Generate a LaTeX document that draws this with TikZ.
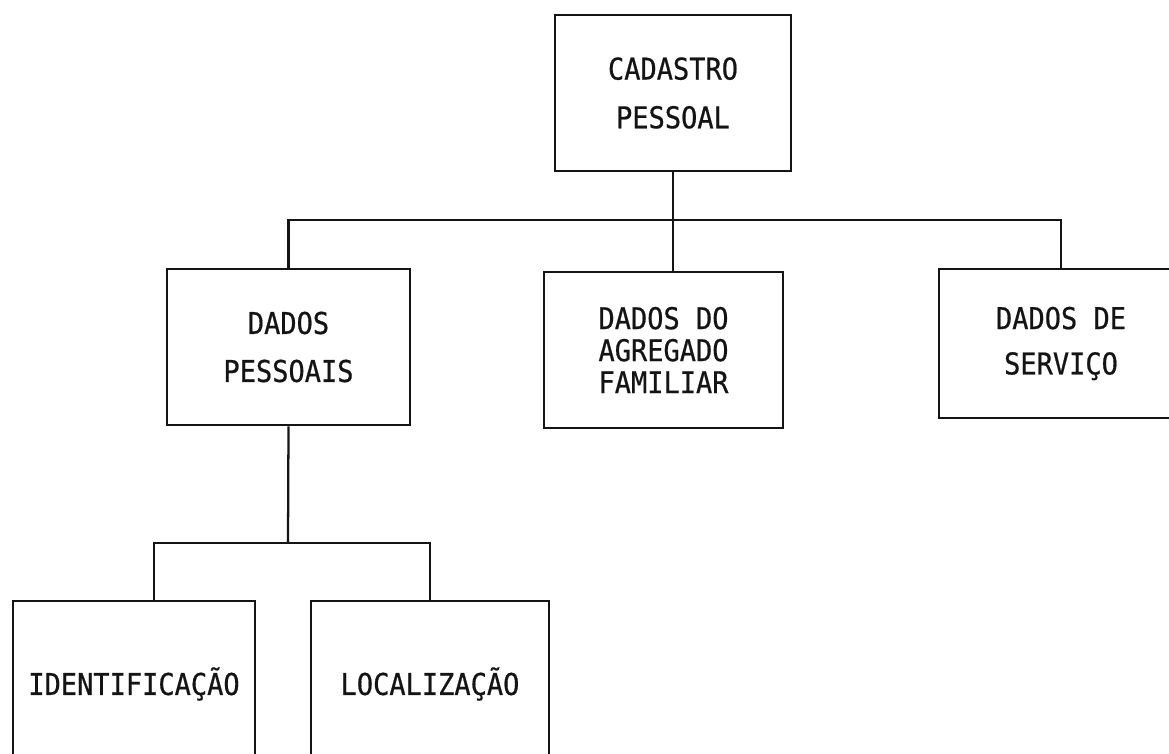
\documentclass[tikz,border=0pt]{standalone}
\usepackage{fontspec}
\newfontfamily\boxfont[FakeStretch=0.9,FakeBold=0.6]{DejaVu Sans Mono}
\usetikzlibrary{positioning,calc}
\definecolor{Ink}{HTML}{141414}
\tikzset{
  unit/.style={rectangle,draw=Ink,line width=2.2pt,inner sep=0pt,align=center,text=Ink,font=\boxfont\fontsize{22.5}{24}\selectfont},
  link/.style={draw=Ink,line width=1.7pt}
}
\begin{document}
\begin{tikzpicture}[x=0.75pt,y=-0.75pt]
    \useasboundingbox (0,0) rectangle (1169,753);
    \fill[white] (0,0) rectangle (1169,753);
    \clip (0,0) rectangle (1169,753);
    % top of the tree
    \node[unit,minimum width=177pt,minimum height=117pt] (cad) at (673,93) {CADASTRO\\[12.5pt]PESSOAL};
    \node[unit,minimum width=182.25pt,minimum height=117pt] (dp) at (288.5,347) {DADOS\\[12pt]PESSOAIS};
    \node[unit,minimum width=179.25pt,minimum height=117pt] (agr) at (663.5,350) {DADOS DO\\AGREGADO\\FAMILIAR};
    \node[unit,minimum width=183pt,minimum height=111.75pt] (serv) at (1061,343.5) {DADOS DE\\[10pt]SERVIÇO};
    % second level
    \node[unit,minimum width=181.5pt,minimum height=124.5pt] (ident) at (134,684) {IDENTIFICAÇÃO};
    \node[unit,minimum width=178.5pt,minimum height=124.5pt] (loc) at (430,684) {LOCALIZAÇÃO};
    \coordinate (bus1) at (673,220);
    \coordinate (bus2) at (288,543);
    \draw[link] (cad.south) -- (bus1);
    \draw[link] (bus1) -| (dp.north);
    \draw[link] (bus1) -| (serv.north);
    \draw[link] (bus1) -- (bus1 |- agr.north);
    \draw[link] (dp.south) -- (bus2);
    \draw[link] (bus2) -| ([xshift=15pt]ident.north);
    \draw[link] (bus2) -| (loc.north);
  \end{tikzpicture}
\end{document}
